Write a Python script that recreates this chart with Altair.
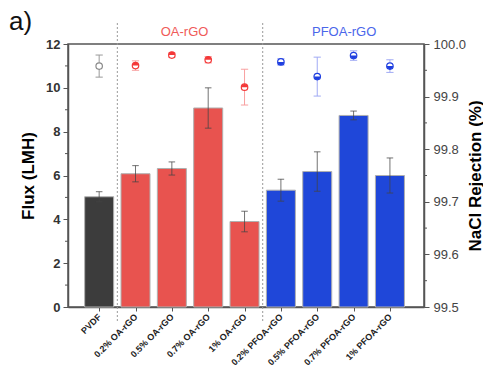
import json
import altair as alt
import pandas as pd

categories = ["PVDF", "0.2% OA-rGO", "0.5% OA-rGO", "0.7% OA-rGO", "1% OA-rGO",
              "0.2% PFOA-rGO", "0.5% PFOA-rGO", "0.7% PFOA-rGO", "1% PFOA-rGO"]
groups = ["PVDF", "OA", "OA", "OA", "OA", "PFOA", "PFOA", "PFOA", "PFOA"]
flux = [5.03, 6.08, 6.32, 9.08, 3.90, 5.33, 6.18, 8.74, 6.00]
flux_err = [0.23, 0.37, 0.30, 0.92, 0.47, 0.50, 0.90, 0.20, 0.80]
rejection = [99.958, 99.959, 99.979, 99.970, 99.918, 99.966, 99.938, 99.978, 99.958]
rejection_err = [0.021, 0.009, 0.004, 0.006, 0.034, 0.006, 0.037, 0.009, 0.012]

flux_ticks = [0, 2, 4, 6, 8, 10, 12]
flux_minor = [1, 3, 5, 7, 9, 11]
rej_ticks = [99.5, 99.6, 99.7, 99.8, 99.9, 100.0]
rej_minor = [99.55, 99.65, 99.75, 99.85, 99.95]
separators = [0.5, 4.5]
group_labels = ["OA-rGO", "PFOA-rGO"]
group_label_x = [2.35, 6.74]
group_label_colors = ["#f05a58", "#4a66ea"]

bar_colors = {"PVDF": "#3c3c3c", "OA": "#e8534f", "PFOA": "#1f47d9"}
pt_colors = {"PVDF": "#8a8a8a", "OA": "#f43838", "PFOA": "#1f3fe0"}
err_colors = {"PVDF": "#9a9a9a", "OA": "#f8a0a0", "PFOA": "#a0aaf4"}

FONT = "Liberation Sans"
W, H = 356, 263

df = pd.DataFrame({
    "idx": list(range(len(categories))),
    "cat": categories,
    "group": groups,
    "flux": flux,
    "flux_err": flux_err,
    "rej": rejection,
    "rej_err": rejection_err,
})
df["flux_lo"] = df.flux - df.flux_err
df["flux_hi"] = df.flux + df.flux_err
df["rej_lo"] = df.rej - df.rej_err
df["rej_hi"] = df.rej + df.rej_err
df["bar_color"] = df.group.map(bar_colors)
df["pt_color"] = df.group.map(pt_colors)
df["err_color"] = df.group.map(err_colors)

label_expr = json.dumps(categories) + "[datum.value]"
xscale = alt.Scale(domain=[-0.72, 8.80], nice=False, zero=False)
xaxis = alt.Axis(values=list(range(len(categories))), labelExpr=label_expr,
                 labelAngle=-45, labelAlign="right", labelBaseline="middle",
                 labelOverlap=False, labelBound=False, labelFlush=False,
                 labelFont=FONT, labelFontSize=9, labelFontWeight="bold",
                 labelColor="#222", labelPadding=4, tickSize=4, tickColor="#555",
                 domainColor="#555", domainWidth=1.5, grid=False, title=None)
X = alt.X("idx:Q", scale=xscale, axis=xaxis)

yflux_scale = alt.Scale(domain=[0, 12], nice=False)
yflux_axis = alt.Axis(values=flux_ticks, title="Flux (LMH)", titleFont=FONT,
                      titleFontSize=17, titleFontWeight="bold", titleColor="#000",
                      titleAngle=270, titleX=-40, titleY=H / 2, titleBaseline="middle",
                      titleAlign="center",
                      labelFont=FONT, labelFontSize=13, labelFontWeight="bold",
                      labelColor="#333", labelPadding=3, tickSize=5, tickColor="#555",
                      domainColor="#555", domainWidth=1.5, grid=False, orient="left")

yrej_scale = alt.Scale(domain=[99.5, 100.0], nice=False, zero=False)
yrej_axis = alt.Axis(values=rej_ticks, format=".1f", title="NaCl Rejection (%)",
                     titleFont=FONT, titleFontSize=17, titleFontWeight="bold",
                     titleColor="#000", titleAngle=270, titleX=51, titleY=H / 2,
                     titleBaseline="middle", titleAlign="center",
                     labelFont=FONT, labelFontSize=13, labelColor="#444",
                     labelPadding=4, tickSize=5, tickColor="#555",
                     domainColor="#555", domainWidth=1.5, grid=False, orient="right")

base = alt.Chart(df)

bars = base.mark_bar(size=29, orient="vertical", stroke="#b0b0b0", strokeWidth=1).encode(
    x=X,
    y=alt.Y("flux:Q", scale=yflux_scale, axis=yflux_axis),
    color=alt.Color("bar_color:N", scale=None),
)
flux_rule = base.mark_rule(color="#444", opacity=0.75, strokeWidth=1).encode(
    x=X, y=alt.Y("flux_lo:Q"), y2="flux_hi:Q")
flux_cap_lo = base.transform_calculate(a="datum.idx - 0.09", b="datum.idx + 0.09").mark_rule(
    color="#444", opacity=0.75, strokeWidth=1).encode(
    x=alt.X("a:Q"), x2="b:Q", y=alt.Y("flux_lo:Q"))
flux_cap_hi = base.transform_calculate(a="datum.idx - 0.09", b="datum.idx + 0.09").mark_rule(
    color="#444", opacity=0.75, strokeWidth=1).encode(
    x=alt.X("a:Q"), x2="b:Q", y=alt.Y("flux_hi:Q"))
minor_left = alt.Chart(pd.DataFrame({"v": flux_minor})).mark_rule(
    color="#555", strokeWidth=1).encode(
    x=alt.value(-3), x2=alt.value(0), y=alt.Y("v:Q"))

left = alt.layer(bars, flux_rule, flux_cap_lo, flux_cap_hi, minor_left)

rej_rule = base.mark_rule(strokeWidth=1).encode(
    x=X, y=alt.Y("rej_lo:Q", scale=yrej_scale, axis=yrej_axis), y2="rej_hi:Q",
    color=alt.Color("err_color:N", scale=None))
rej_cap_lo = base.transform_calculate(a="datum.idx - 0.1", b="datum.idx + 0.1").mark_rule(
    strokeWidth=1).encode(
    x=alt.X("a:Q"), x2="b:Q", y=alt.Y("rej_lo:Q"),
    color=alt.Color("err_color:N", scale=None))
rej_cap_hi = base.transform_calculate(a="datum.idx - 0.1", b="datum.idx + 0.1").mark_rule(
    strokeWidth=1).encode(
    x=alt.X("a:Q"), x2="b:Q", y=alt.Y("rej_hi:Q"),
    color=alt.Color("err_color:N", scale=None))
circles = base.mark_point(shape="circle", size=42, filled=True, fill="white",
                          strokeWidth=1.2, opacity=1).encode(
    x=X, y=alt.Y("rej:Q"), stroke=alt.Stroke("pt_color:N", scale=None))
top_half = base.transform_filter("datum.group == 'OA'").mark_point(
    shape="M -1 0 A 1 1 0 0 1 1 0 Z", size=42, filled=True, opacity=1).encode(
    x=X, y=alt.Y("rej:Q"), color=alt.Color("pt_color:N", scale=None))
bottom_half = base.transform_filter("datum.group == 'PFOA'").mark_point(
    shape="M -1 0 A 1 1 0 0 0 1 0 Z", size=42, filled=True, opacity=1).encode(
    x=X, y=alt.Y("rej:Q"), color=alt.Color("pt_color:N", scale=None))
minor_right = alt.Chart(pd.DataFrame({"v": rej_minor})).mark_rule(
    color="#555", strokeWidth=1).encode(
    x=alt.value(W), x2=alt.value(W + 3), y=alt.Y("v:Q"))

right = alt.layer(rej_rule, rej_cap_lo, rej_cap_hi, circles, top_half, bottom_half, minor_right)

seps = alt.Chart(pd.DataFrame({"s": separators})).mark_rule(
    color="#9a9a9a", strokeDash=[2, 2], strokeWidth=1).encode(
    x=alt.X("s:Q"), y=alt.value(-21), y2=alt.value(H + 16))

glabels = alt.Chart(pd.DataFrame({"t": group_labels, "x": group_label_x,
                                  "c": group_label_colors})).mark_text(
    font=FONT, fontSize=13, baseline="middle", align="center").encode(
    x=alt.X("x:Q"), y=alt.value(-12), text="t:N", color=alt.Color("c:N", scale=None))

panel_label = alt.Chart(pd.DataFrame({"t": ["a)"]})).mark_text(
    font=FONT, fontSize=26, align="left", baseline="middle", color="#111").encode(
    x=alt.value(-59), y=alt.value(-22), text="t:N")

chart = alt.layer(left, right, seps, glabels, panel_label).resolve_scale(
    y="independent"
).properties(
    width=W, height=H,
    autosize=alt.AutoSizeParams(type="none"),
    padding={"left": 68, "top": 44, "right": 59, "bottom": 77},
    background="white",
).configure_view(stroke="#555", strokeWidth=1.5)

chart.save("out.html", embed_options={"renderer": "svg", "actions": False})
